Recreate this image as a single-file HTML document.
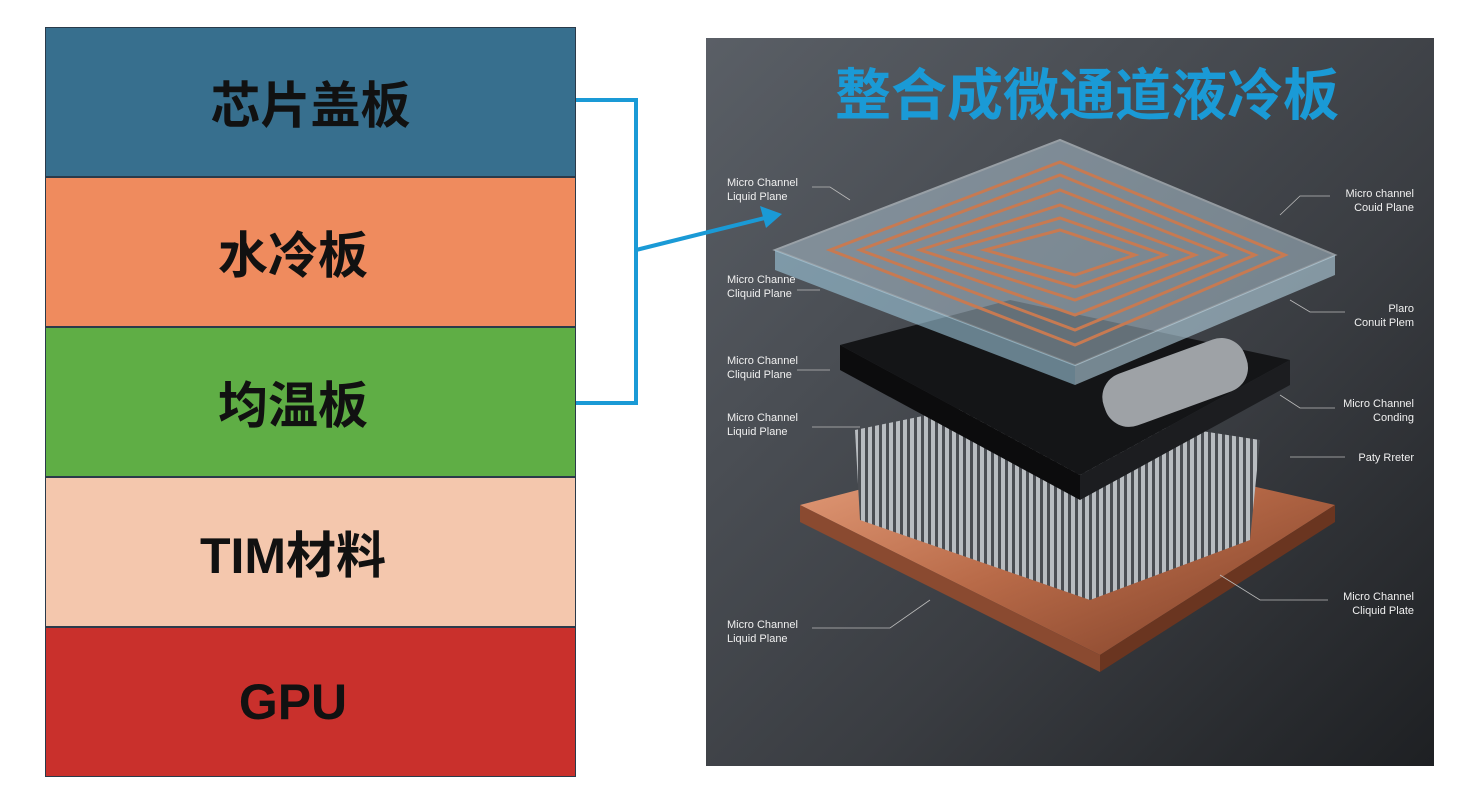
<!DOCTYPE html>
<html><head><meta charset="utf-8"><style>
body{margin:0;width:1466px;height:798px;background:#fff;position:relative;overflow:hidden;font-family:"Liberation Sans","Noto Sans CJK SC",sans-serif}
.row{position:absolute;left:45px;width:531px;height:150px;box-sizing:border-box;border:1px solid #2a3a4a;display:flex;align-items:center;justify-content:center;font-weight:bold;font-size:50px;color:#111}
</style></head><body>
<div class="row" style="top:27px;background:#376f8e">芯片盖板</div>
<div class="row" style="top:177px;background:#ef8b5e;padding-right:35px">水冷板</div>
<div class="row" style="top:327px;background:#5fae45;padding-right:35px">均温板</div>
<div class="row" style="top:477px;background:#f4c7ad;padding-right:35px">TIM材料</div>
<div class="row" style="top:627px;background:#c9302c;padding-right:35px">GPU</div>
<svg width="1466" height="798" style="position:absolute;left:0;top:0">
<defs>
<linearGradient id="bg" x1="0" y1="0" x2="1" y2="1"><stop offset="0" stop-color="#5a5f66"/><stop offset="0.6" stop-color="#3a3d42"/><stop offset="1" stop-color="#1e2023"/></linearGradient>
<linearGradient id="cu" x1="0" y1="0" x2="1" y2="1"><stop offset="0" stop-color="#e9a27f"/><stop offset="0.5" stop-color="#b86a48"/><stop offset="1" stop-color="#7a3d26"/></linearGradient>
<pattern id="fins" width="7" height="10" patternUnits="userSpaceOnUse"><rect width="7" height="10" fill="#4a4d52"/><rect width="4" height="10" fill="#b8bcc0"/></pattern>
</defs>
<rect x="706" y="38" width="728" height="728" fill="url(#bg)"/>
<polyline points="576,100 636,100 636,403 576,403" fill="none" stroke="#1a9ad6" stroke-width="4"/>
<!-- copper base -->
<polygon points="800,505 1050,440 1335,505 1100,655" fill="url(#cu)"/>
<polygon points="800,505 1100,655 1100,672 800,522" fill="#8a4a30"/>
<polygon points="1100,655 1335,505 1335,522 1100,672" fill="#6a3520"/>
<!-- fins -->
<polygon points="855,430 1000,400 1260,440 1250,540 1090,600 860,520" fill="url(#fins)"/>
<!-- frame -->
<polygon points="840,345 1010,300 1290,360 1080,475" fill="#141517"/>
<polygon points="840,345 1080,475 1080,500 840,370" fill="#0c0c0d"/>
<polygon points="1080,475 1290,360 1290,385 1080,500" fill="#1c1d20"/>
<rect x="1100" y="355" width="150" height="55" rx="25" fill="#9ea2a6" transform="rotate(-20 1175 382)"/>
<!-- glass plate -->
<polygon points="775,250 1060,140 1335,255 1075,365" fill="#b4cad8" opacity="0.5" stroke="#e4eef4" stroke-width="2"/>
<polygon points="775,250 1075,365 1075,385 775,270" fill="#9fc8dc" opacity="0.6"/>
<polygon points="1075,365 1335,255 1335,275 1075,385" fill="#b6d3e2" opacity="0.6"/>
<g fill="none" stroke="#c77a52" stroke-width="3">
<polygon points="830,250 1060,162 1285,255 1075,345"/>
<polygon points="860,250 1060,175 1255,255 1075,330"/>
<polygon points="890,250 1060,190 1225,255 1075,315"/>
<polygon points="920,250 1060,205 1195,255 1075,300"/>
<polygon points="950,250 1060,218 1165,255 1075,287"/>
<polygon points="985,250 1060,230 1135,255 1075,275"/>
</g>
<line x1="636" y1="250" x2="765" y2="218" stroke="#1a9ad6" stroke-width="4"/>
<polygon points="782,214 760,206 766,228" fill="#1a9ad6"/>
<g font-family="Liberation Sans" font-size="11" fill="#f0f0f0">
<text x="727" y="186">Micro Channel</text><text x="727" y="200">Liquid Plane</text>
<text x="727" y="283">Micro Channe</text><text x="727" y="297">Cliquid Plane</text>
<text x="727" y="364">Micro Channel</text><text x="727" y="378">Cliquid Plane</text>
<text x="727" y="421">Micro Channel</text><text x="727" y="435">Liquid Plane</text>
<text x="727" y="628">Micro Channel</text><text x="727" y="642">Liquid Plane</text>
<g text-anchor="end">
<text x="1414" y="197">Micro channel</text><text x="1414" y="211">Couid Plane</text>
<text x="1414" y="312">Plaro</text><text x="1414" y="326">Conuit Plem</text>
<text x="1414" y="407">Micro Channel</text><text x="1414" y="421">Conding</text>
<text x="1414" y="461">Paty Rreter</text>
<text x="1414" y="600">Micro Channel</text><text x="1414" y="614">Cliquid Plate</text>
</g></g>
<g stroke="#bbb" stroke-width="0.8" fill="none">
<polyline points="812,187 830,187 850,200"/><polyline points="1330,196 1300,196 1280,215"/>
<polyline points="797,290 820,290"/><polyline points="1345,312 1310,312 1290,300"/>
<polyline points="797,370 830,370"/><polyline points="1335,408 1300,408 1280,395"/>
<polyline points="812,427 860,427"/><polyline points="1345,457 1290,457"/>
<polyline points="812,628 890,628 930,600"/><polyline points="1328,600 1260,600 1220,575"/>
</g>
<text x="1087" y="115" text-anchor="middle" font-family="Liberation Sans,Noto Sans CJK SC,sans-serif" font-weight="bold" font-size="56" fill="#1a9ad6">整合成微通道液冷板</text>
</svg>
</body></html>
